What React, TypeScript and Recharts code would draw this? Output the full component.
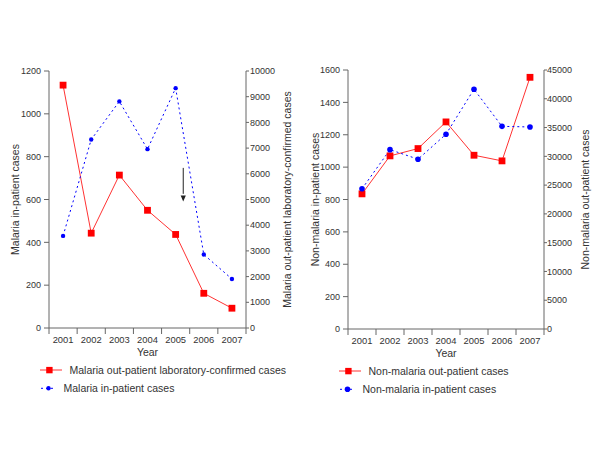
import React from 'react';
import { ComposedChart, Line, XAxis, YAxis, Legend, ReferenceLine, ReferenceDot } from 'recharts';

// ---- data ----
const years = [2001, 2002, 2003, 2004, 2005, 2006, 2007];
const malariaOutpatient = [9450, 3690, 5950, 4580, 3640, 1350, 770];
const malariaInpatient = [430, 880, 1058, 835, 1120, 343, 229];
const nonMalariaOutpatient = [23480, 30080, 31350, 35980, 30190, 29210, 43730];
const nonMalariaInpatient = [866, 1108, 1049, 1203, 1481, 1252, 1248];

const yearTicks = [2000.5, 2001, 2001.5, 2002, 2002.5, 2003, 2003.5, 2004, 2004.5, 2005, 2005.5, 2006, 2006.5, 2007, 2007.5];
const malInTicks = [0, 200, 400, 600, 800, 1000, 1200];
const malOutTicks = [0, 1000, 2000, 3000, 4000, 5000, 6000, 7000, 8000, 9000, 10000];
const nonInTicks = [0, 200, 400, 600, 800, 1000, 1200, 1400, 1600];
const nonOutTicks = [0, 5000, 10000, 15000, 20000, 25000, 30000, 35000, 40000, 45000];

const arrowYear = 2005.27;
const arrowFrom = 6230;
const arrowTo = 4920;

const malName = {
  out: 'Malaria out-patient laboratory-confirmed cases',
  inp: 'Malaria in-patient cases',
};
const nonName = {
  out: 'Non-malaria out-patient cases',
  inp: 'Non-malaria in-patient cases',
};

const malData = years.map((y, i) => ({ year: y, out: malariaOutpatient[i], inp: malariaInpatient[i] }));
const nonData = years.map((y, i) => ({ year: y, out: nonMalariaOutpatient[i], inp: nonMalariaInpatient[i] }));

// ---- styles ----
const FONT = '"Liberation Sans", Arial, sans-serif';
const TEXT = '#333333';
const AXIS = '#666666';
const RED_LINE = '#ff3333';
const RED = '#ff0000';
const BLUE = '#0000ff';

const YearTick = (props: any) => {
  const { x, y, payload } = props;
  const v = payload.value;
  if (Number.isInteger(v)) {
    return (
      <text x={x} y={y} dy="0.71em" textAnchor="middle" fontSize={9.4} fill={TEXT} fontFamily={FONT}>
        {v}
      </text>
    );
  }
  return <line x1={x} y1={y - 8} x2={x} y2={y - 2} stroke={AXIS} />;
};

const vTitle = (text: string, dx: number) => (props: any) => {
  const vb = props.viewBox || {};
  const cx = (vb.x || 0) + dx;
  const cy = (vb.y || 0) + (vb.height || 0) / 2;
  return (
    <text x={cx} y={cy} dy="0.35em" transform={`rotate(-90 ${cx} ${cy})`} textAnchor="middle" fontSize={10.5} fill={TEXT} fontFamily={FONT}>
      {text}
    </text>
  );
};

const xTitle = (props: any) => {
  const vb = props.viewBox || {};
  const cx = (vb.x || 0) + (vb.width || 0) / 2;
  const cy = (vb.y || 0) + 28;
  return (
    <text x={cx} y={cy} textAnchor="middle" fontSize={10.5} fill={TEXT} fontFamily={FONT}>
      Year
    </text>
  );
};

const squareDot = (p: any) => {
  if (p.cx == null || p.cy == null) return <g key={p.index} />;
  return <rect key={p.index} x={p.cx - 3.4} y={p.cy - 3.4} width={6.8} height={6.8} fill={RED} />;
};

const makeLegend = (names: { out: string; inp: string }, blueR: number) => (props: any) => {
  const items = [...(props.payload || [])];
  const outItem = items.find((d: any) => d.value === names.out);
  const inItem = items.find((d: any) => d.value === names.inp);
  return (
    <svg width={280} height={40} style={{ display: 'block', overflow: 'visible' }}>
      {outItem && (
        <g>
          <line x1={0} y1={9} x2={22} y2={9} stroke={RED_LINE} strokeWidth={1} />
          <rect x={6.2} y={5.9} width={6.4} height={6.4} fill={RED} />
          <text x={29.5} y={9} dy="0.35em" fontSize={10.5} fill={TEXT} fontFamily={FONT}>
            {outItem.value}
          </text>
        </g>
      )}
      {inItem && (
        <g>
          <line x1={1} y1={27.3} x2={16} y2={27.3} stroke={BLUE} strokeWidth={1} strokeDasharray="2 3" />
          <circle cx={8.5} cy={27.3} r={blueR} fill={BLUE} />
          <text x={23.5} y={27.3} dy="0.35em" fontSize={10.5} fill={TEXT} fontFamily={FONT}>
            {inItem.value}
          </text>
        </g>
      )}
    </svg>
  );
};

const tickStyle = { fontSize: 9, fill: TEXT, fontFamily: FONT };

export default function App() {
  return (
    <div style={{ position: 'absolute', left: 0, top: 0, width: 600, height: 450, background: '#ffffff' }}>
      <div style={{ position: 'absolute', left: 0, top: 0 }}>
        <ComposedChart width={300} height={450} data={malData} margin={{ top: 71, right: 0, bottom: 92, left: 0 }}>
          <XAxis
            dataKey="year"
            type="number"
            domain={[2000.5, 2007.5]}
            ticks={yearTicks}
            interval={0}
            allowDataOverflow
            height={30}
            tick={<YearTick />}
            tickLine={false}
            tickSize={6}
            tickMargin={2}
            stroke={AXIS}
            label={{ value: 'Year', content: xTitle }}
          />
          <YAxis
            yAxisId="L"
            orientation="left"
            width={49}
            domain={[0, 1200]}
            ticks={malInTicks}
            interval={0}
            tick={tickStyle}
            tickSize={5}
            tickMargin={3}
            stroke={AXIS}
            label={{ value: 'Malaria in-patient cases', content: vTitle('Malaria in-patient cases', 15) }}
          />
          <YAxis
            yAxisId="R"
            orientation="right"
            width={54}
            domain={[0, 10000]}
            ticks={malOutTicks}
            interval={0}
            tick={{ ...tickStyle, textAnchor: 'start' }}
            tickSize={3}
            tickMargin={1}
            stroke={AXIS}
            label={{ value: malName.out, content: vTitle(malName.out, 41) }}
          />
          <Line
            yAxisId="R"
            dataKey="out"
            name={malName.out}
            stroke={RED_LINE}
            strokeWidth={1}
            dot={squareDot}
            activeDot={false}
            isAnimationActive={false}
          />
          <Line
            yAxisId="L"
            dataKey="inp"
            name={malName.inp}
            stroke={BLUE}
            strokeWidth={1}
            strokeDasharray="2 3"
            dot={{ r: 2.2, fill: BLUE, stroke: 'none', strokeDasharray: '0' }}
            activeDot={false}
            isAnimationActive={false}
          />
          <ReferenceLine
            yAxisId="R"
            segment={[
              { x: arrowYear, y: arrowFrom },
              { x: arrowYear, y: arrowTo + 300 },
            ]}
            stroke="#222222"
            strokeWidth={1}
          />
          <ReferenceDot
            yAxisId="R"
            x={arrowYear}
            y={arrowTo}
            r={3}
            shape={(p: any) => (
              <path d={`M${p.cx - 2.6},${p.cy - 6} L${p.cx + 2.6},${p.cy - 6} L${p.cx},${p.cy} Z`} fill="#222222" />
            )}
          />
          <Legend
            layout="vertical"
            verticalAlign="middle"
            align="center"
            wrapperStyle={{ left: 40, top: 361, width: 280, height: 40 }}
            content={makeLegend(malName, 2.2)}
          />
        </ComposedChart>
      </div>

      <div style={{ position: 'absolute', left: 300, top: 0 }}>
        <ComposedChart width={300} height={450} data={nonData} margin={{ top: 70, right: 0, bottom: 91, left: 0 }}>
          <XAxis
            dataKey="year"
            type="number"
            domain={[2000.5, 2007.5]}
            ticks={yearTicks}
            interval={0}
            allowDataOverflow
            height={30}
            tick={<YearTick />}
            tickLine={false}
            tickSize={6}
            tickMargin={2}
            stroke={AXIS}
            label={{ value: 'Year', content: xTitle }}
          />
          <YAxis
            yAxisId="L"
            orientation="left"
            width={48}
            domain={[0, 1600]}
            ticks={nonInTicks}
            interval={0}
            tick={tickStyle}
            tickSize={5}
            tickMargin={3}
            stroke={AXIS}
            label={{ value: nonName.inp, content: vTitle(nonName.inp, 15) }}
          />
          <YAxis
            yAxisId="R"
            orientation="right"
            width={56}
            domain={[0, 45000]}
            ticks={nonOutTicks}
            interval={0}
            tick={{ ...tickStyle, textAnchor: 'start' }}
            tickSize={3}
            tickMargin={0}
            stroke={AXIS}
            label={{ value: nonName.out, content: vTitle(nonName.out, 41.7) }}
          />
          <Line
            yAxisId="R"
            dataKey="out"
            name={nonName.out}
            stroke={RED_LINE}
            strokeWidth={1}
            dot={squareDot}
            activeDot={false}
            isAnimationActive={false}
          />
          <Line
            yAxisId="L"
            dataKey="inp"
            name={nonName.inp}
            stroke={BLUE}
            strokeWidth={1}
            strokeDasharray="2 3"
            dot={{ r: 2.8, fill: BLUE, stroke: 'none', strokeDasharray: '0' }}
            activeDot={false}
            isAnimationActive={false}
          />
          <Legend
            layout="vertical"
            verticalAlign="middle"
            align="center"
            wrapperStyle={{ left: 39.3, top: 362, width: 260, height: 40 }}
            content={makeLegend(nonName, 2.8)}
          />
        </ComposedChart>
      </div>
    </div>
  );
}
